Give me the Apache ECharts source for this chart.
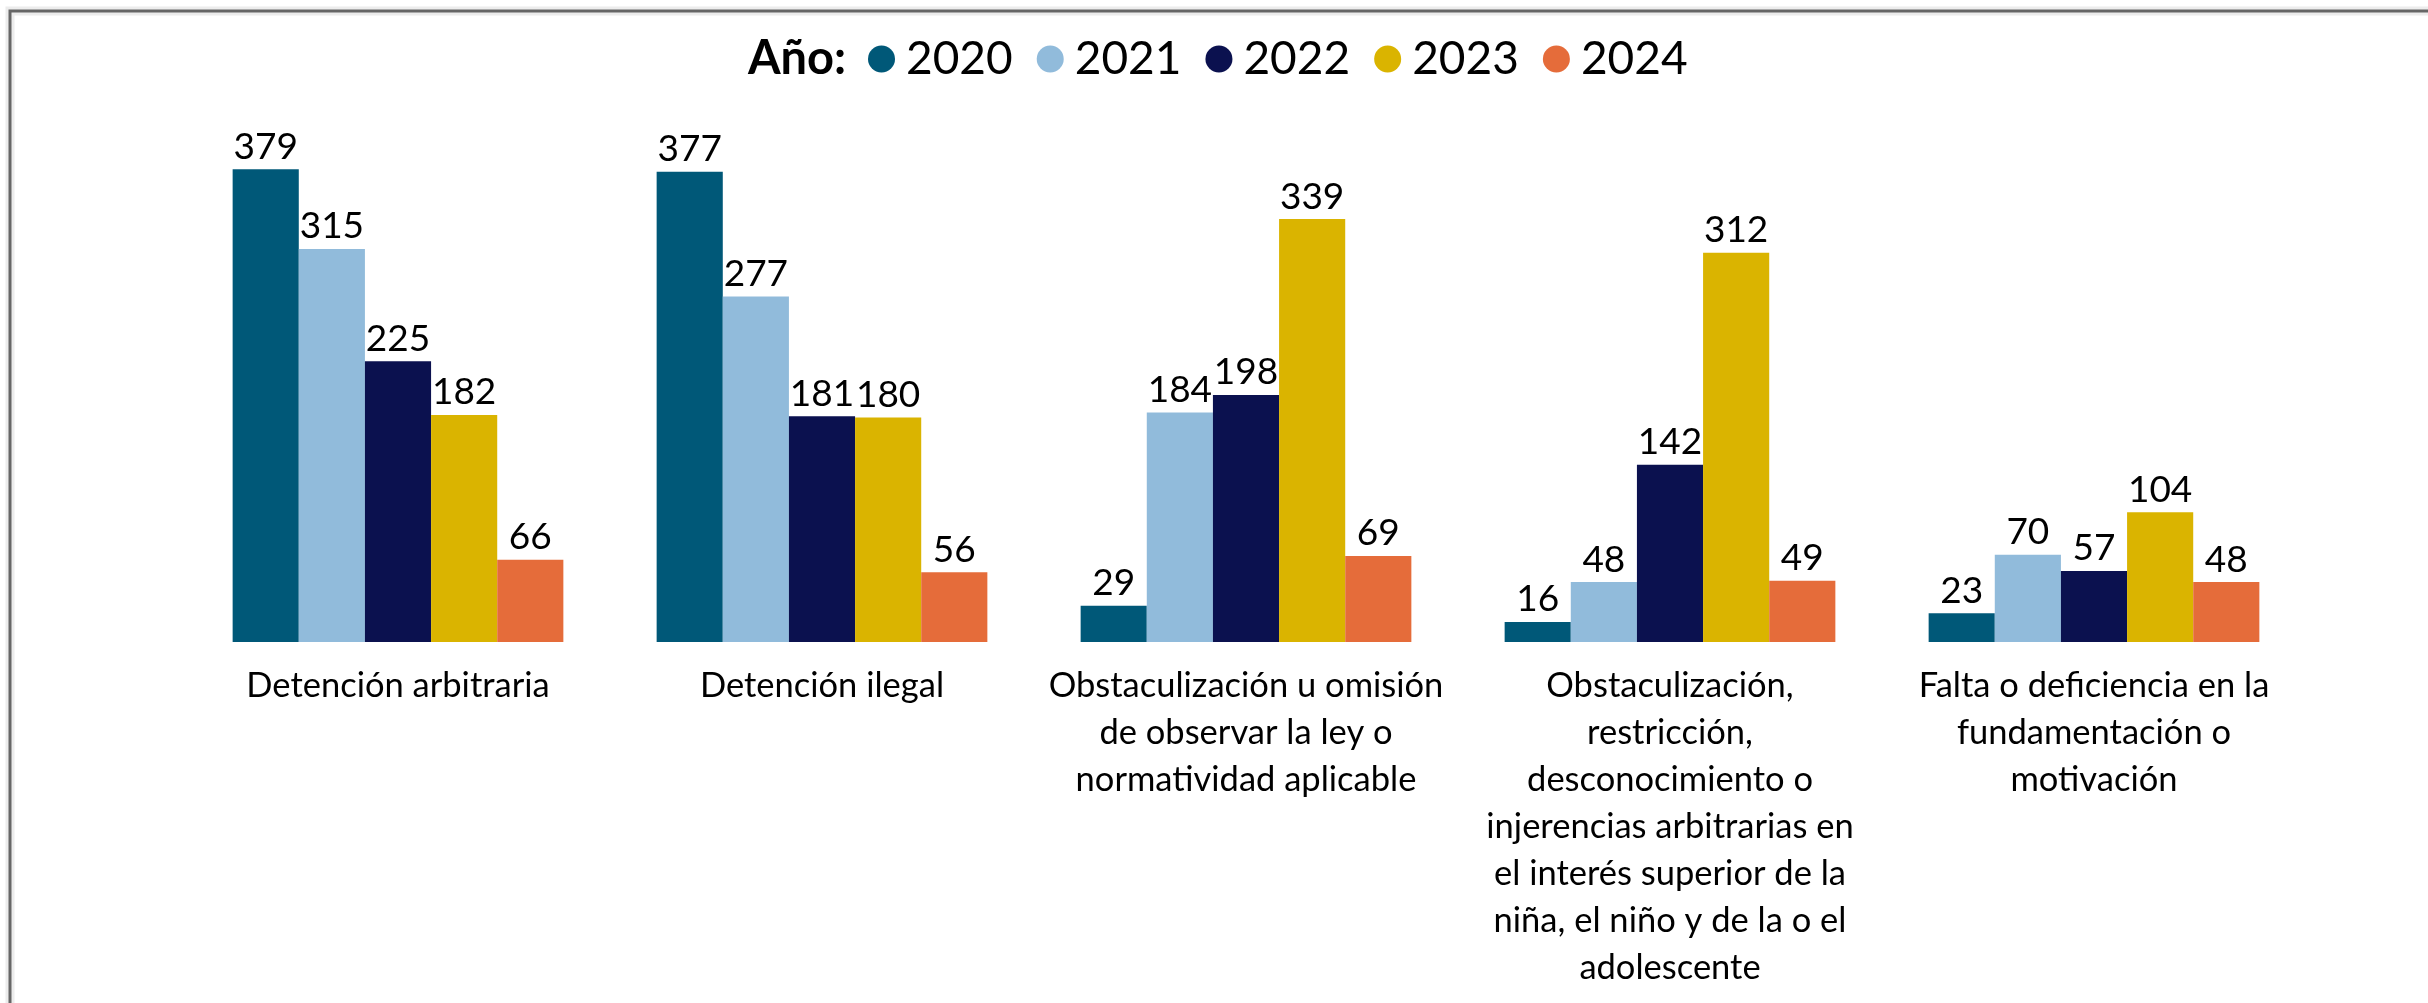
<!DOCTYPE html>
<html>
<head>
<meta charset="utf-8">
<script src="https://cdn.jsdelivr.net/npm/echarts@6/dist/echarts.min.js"></script>
<style>
  html, body { margin: 0; padding: 0; background: #ffffff; }
  #chart { width: 2428px; height: 1003px; }
</style>
</head>
<body>
<div id="chart"></div>
<script>
const categories = [
  'Detención arbitraria',
  'Detención ilegal',
  'Obstaculización u omisión\nde observar la ley o\nnormatividad aplicable',
  'Obstaculización,\nrestricción,\ndesconocimiento o\ninjerencias arbitrarias en\nel interés superior de la\nniña, el niño y de la o el\nadolescente',
  'Falta o deficiencia en la\nfundamentación o\nmotivación'
];
const years = ['2020', '2021', '2022', '2023', '2024'];
const values2020 = [379, 377, 29, 16, 23];
const values2021 = [315, 277, 184, 48, 70];
const values2022 = [225, 181, 198, 142, 57];
const values2023 = [182, 180, 339, 312, 104];
const values2024 = [66, 56, 69, 49, 48];
const colors = ['#005878', '#91BBDB', '#0B114F', '#DAB400', '#E56C3A'];
const legendTitle = 'Año:';

const seriesValues = [values2020, values2021, values2022, values2023, values2024];
const FONT = 'Lato, "Open Sans", sans-serif';

const chart = echarts.init(document.getElementById('chart'));
chart.setOption({
  backgroundColor: '#ffffff',
  animation: false,
  color: colors,
  graphic: [
    { type: 'rect', z: 0, shape: { x: 10, y: 11, width: 2600, height: 1200 },
      style: { fill: 'none', stroke: '#ececec', lineWidth: 9 } },
    { type: 'rect', z: 1, shape: { x: 10, y: 11, width: 2600, height: 1200 },
      style: { fill: 'none', stroke: '#666666', lineWidth: 3 } },
    { type: 'text', z: 5, x: 748, y: 59,
      style: { text: legendTitle, fontFamily: FONT, fontSize: 47, fontWeight: 'bold',
               fill: '#000', verticalAlign: 'middle', align: 'left' } }
  ],
  legend: {
    data: years,
    left: 868,
    top: 36,
    padding: 0,
    icon: 'circle',
    itemWidth: 39,
    itemHeight: 27,
    itemGap: 24,
    textStyle: { fontFamily: FONT, fontSize: 46, color: '#000' }
  },
  grid: { left: 186, right: 122, top: 143, bottom: 361, containLabel: false },
  xAxis: {
    type: 'category',
    data: categories,
    axisLine: { show: false },
    axisTick: { show: false },
    axisLabel: {
      interval: 0,
      margin: 20,
      fontFamily: FONT,
      fontSize: 34.5,
      lineHeight: 47,
      color: '#000',
      align: 'center'
    }
  },
  yAxis: {
    type: 'value',
    min: 0,
    max: 400,
    show: false,
    splitLine: { show: false }
  },
  series: years.map((y, i) => ({
    name: y,
    type: 'bar',
    data: seriesValues[i],
    barGap: '0%',
    barCategoryGap: '22%',
    itemStyle: { color: colors[i] },
    label: {
      show: true,
      position: 'top',
      distance: 4,
      fontFamily: FONT,
      fontSize: 37,
      color: '#000'
    }
  }))
});
</script>
</body>
</html>
